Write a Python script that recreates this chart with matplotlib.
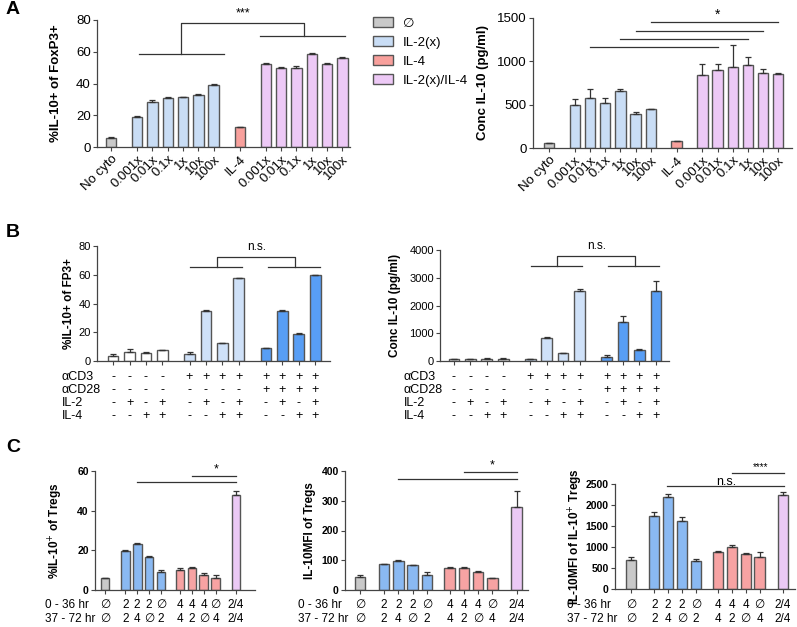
import matplotlib
matplotlib.use('Agg')
import matplotlib.pyplot as plt
import matplotlib.transforms as mtrans
from matplotlib.patches import Patch
import numpy as np

plt.rcParams['font.family'] = ['Liberation Sans', 'DejaVu Sans']

W, H = 797, 627

# ---------------- data
a_labels = ['No cyto', '0.001x', '0.01x', '0.1x', '1x', '10x', '100x', 'IL-4',
            '0.001x', '0.01x', '0.1x', '1x', '10x', '100x']
a_groups = ['none'] + ['il2'] * 6 + ['il4'] + ['both'] * 6
a_pct = [5.5, 19, 28.5, 31, 31.3, 33, 39, 12.5, 52.5, 50, 50, 58.5, 52.5, 56]
a_pct_err = [0.6, 0.3, 1.2, 0.6, 0.4, 0.3, 0.6, 0.3, 0.6, 0.3, 1.0, 0.8, 0.3, 0.5]
a_conc = [55, 500, 580, 520, 655, 395, 450, 80, 845, 905, 940, 960, 860, 855]
a_conc_err = [6, 70, 100, 60, 30, 20, 5, 5, 120, 65, 250, 90, 55, 10]
legend_labels = ['\u2205', 'IL-2(x)', 'IL-4', 'IL-2(x)/IL-4']

b_groups = ['none'] * 4 + ['cd3'] * 4 + ['cd3cd28'] * 4
b_pct = [3.5, 6.5, 5.5, 7.5, 5, 35, 12.5, 57.5, 9, 34.5, 18.5, 59.5]
b_pct_err = [1.5, 2, 0.6, 0.3, 1, 0.3, 0.2, 0.2, 0.3, 1, 0.7, 0.3]
b_conc = [60, 70, 80, 90, 70, 820, 280, 2520, 160, 1390, 410, 2510]
b_conc_err = [20, 15, 15, 15, 15, 50, 20, 80, 40, 230, 40, 380]
b_rows = ['\u03b1CD3', '\u03b1CD28', 'IL-2', 'IL-4']
b_cd3 = ['-'] * 4 + ['+'] * 8
b_cd28 = ['-'] * 8 + ['+'] * 4
b_il2 = ['-', '+', '-', '+'] * 3
b_il4 = ['-', '-', '+', '+'] * 3

c_groups = ['none'] + ['il2'] * 4 + ['il4'] * 4 + ['both']
c_rows = ['0 - 36 hr', '37 - 72 hr']
c_t1 = ['\u2205', '2', '2', '2', '\u2205', '4', '4', '4', '\u2205', '2/4']
c_t2 = ['\u2205', '2', '4', '\u2205', '2', '4', '2', '\u2205', '4', '2/4']
c_pct = [5.8, 19.7, 23.2, 16.8, 9, 10, 11.3, 7.5, 6, 48]
c_pct_err = [0.5, 0.7, 0.3, 0.2, 1.2, 1.3, 0.5, 1.0, 1.5, 2]
c_mfi = [44, 87, 99, 83, 52, 74, 75, 62, 41, 280]
c_mfi_err = [5, 2, 2, 1, 9, 3, 2, 1, 1, 52]
c_mfi10 = [680, 1740, 2200, 1610, 660, 870, 1010, 840, 770, 2240]
c_mfi10_err = [80, 100, 70, 100, 60, 30, 40, 15, 110, 70]

# ---------------- colours / layout
a_col = {'none': '#c9c9c9', 'il2': '#c9ddf5', 'il4': '#f8a09c', 'both': '#edc9f6'}
b_col = {'none': '#ffffff', 'cd3': '#cfe1f8', 'cd3cd28': '#589ef5'}
c_col = {'none': '#c9c9c9', 'il2': '#8ab9f2', 'il4': '#f7a3a3', 'both': '#ebc9f5'}
edge = '#555555'
line_c = '#333333'

a_pos = np.concatenate([[0], 1.7 + np.arange(6), [8.4], 10.1 + np.arange(6)])
b_pos = np.concatenate([np.arange(4), 4.65 + np.arange(4), 9.3 + np.arange(4)])
c_pos = np.concatenate([[0], 1.7 + np.arange(4), [6.3, 7.3, 8.3, 9.3], [11.0]])

fig = plt.figure(figsize=(W / 100, H / 100), dpi=100)


def add_ax(l, t, r, b):
    return fig.add_axes([l / W, 1 - b / H, (r - l) / W, (b - t) / H])


def style(ax, fs, bold=False):
    for s in ['top', 'right']:
        ax.spines[s].set_visible(False)
    for s in ['left', 'bottom']:
        ax.spines[s].set_color('#444444')
        ax.spines[s].set_linewidth(0.9)
    ax.tick_params(axis='both', direction='out', length=3, width=0.8,
                   color='#444444', labelsize=fs, pad=1.5)
    if bold:
        for t in ax.get_yticklabels():
            t.set_fontweight('bold')


def bars(ax, pos, vals, errs, colors, width):
    ax.bar(pos, vals, width, color=colors, edgecolor=edge, linewidth=1, zorder=2)
    ax.errorbar(pos, vals, yerr=[np.zeros(len(errs)), errs], fmt='none',
                ecolor=line_c, elinewidth=0.9, capsize=2.5, capthick=0.9, zorder=3)


def seg(ax, xs, ys):
    ax.plot(xs, ys, color=line_c, lw=0.9, clip_on=False, zorder=4)


def ylab(ax, text, xpix, axl, axr, fs):
    ax.set_ylabel(text, fontsize=fs, fontweight='bold')
    ax.yaxis.set_label_coords((xpix - axl) / (axr - axl), 0.5)


def table(ax, pos, rows, values, ys, xlab, fs):
    tr = mtrans.blended_transform_factory(ax.transData, fig.transFigure)
    for name, vals, y in zip(rows, values, ys):
        fig.text(xlab / W, 1 - y / H, name, ha='left', va='center', fontsize=fs)
        for p, v in zip(pos, vals):
            ax.text(p, 1 - y / H, v, transform=tr, ha='center', va='center', fontsize=fs)


# ---------------- panel A
ax = add_ax(97, 20, 350, 147)
bars(ax, a_pos, a_pct, a_pct_err, [a_col[g] for g in a_groups], 0.68)
ax.set_ylim(0, 80)
ax.set_yticks([0, 20, 40, 60, 80])
ax.set_xlim(-0.92, 15.6)
ax.set_xticks(a_pos)
ax.set_xticklabels(a_labels, rotation=45, ha='right', rotation_mode='anchor', fontsize=8.5)
style(ax, 9.5)
ylab(ax, '%IL-10+ of FoxP3+', 62, 97, 350, 9.5)
seg(ax, [1.83, 7.4], [58.6, 58.6])
seg(ax, [4.57, 4.57, 12.6, 12.6], [58.6, 78, 78, 70])
seg(ax, [9.74, 15.3], [70, 70])
ax.text(8.6, 80.5, '***', ha='center', va='bottom', fontsize=9)

ax = add_ax(533, 18, 792, 148)
bars(ax, a_pos, a_conc, a_conc_err, [a_col[g] for g in a_groups], 0.68)
ax.set_ylim(0, 1500)
ax.set_yticks([0, 500, 1000, 1500])
ax.set_xlim(-1.05, 16.0)
ax.set_xticks(a_pos)
ax.set_xticklabels(a_labels, rotation=45, ha='right', rotation_mode='anchor', fontsize=8.5)
style(ax, 9.5)
ylab(ax, 'Conc IL-10 (pg/ml)', 489, 533, 792, 9.5)
for i, y in zip([6, 5, 4, 2], [1450, 1353, 1258, 1162]):
    seg(ax, [a_pos[i], a_pos[i + 7]], [y, y])
ax.text(a_pos[9], 1455, '*', ha='center', va='bottom', fontsize=10)

handles = [Patch(facecolor=a_col[g], edgecolor=edge, linewidth=1)
           for g in ['none', 'il2', 'il4', 'both']]
fig.legend(handles, legend_labels, loc='upper left', bbox_to_anchor=(373 / W, 1 - 17 / H),
           frameon=False, fontsize=9.5, handlelength=1.5, handleheight=0.8,
           labelspacing=0.48, handletextpad=0.75, borderpad=0, borderaxespad=0)

# ---------------- panel B
b_table = [b_cd3, b_cd28, b_il2, b_il4]
row_y = [377, 390, 403, 416]

ax = add_ax(97, 246, 330, 361)
bars(ax, b_pos, b_pct, b_pct_err, [b_col[g] for g in b_groups], 0.65)
ax.set_ylim(0, 80)
ax.set_yticks([0, 20, 40, 60, 80])
ax.set_xlim(-0.98, 13.2)
ax.set_xticks(b_pos)
ax.set_xticklabels([])
style(ax, 8)
ylab(ax, '%IL-10+ of FP3+', 75, 97, 330, 8.5)
seg(ax, [4.7, 7.87], [65.4, 65.4])
seg(ax, [9.45, 12.6], [65.4, 65.4])
seg(ax, [6.34, 6.34, 11.1, 11.1], [65.4, 72.3, 72.3, 65.4])
ax.text(8.75, 75, 'n.s.', ha='center', va='bottom', fontsize=8.5)
table(ax, b_pos, b_rows, b_table, row_y, 62, 9)

ax = add_ax(440, 250, 669, 361)
bars(ax, b_pos, b_conc, b_conc_err, [b_col[g] for g in b_groups], 0.65)
ax.set_ylim(0, 4000)
ax.set_yticks([0, 1000, 2000, 3000, 4000])
ax.set_xlim(-0.85, 13.1)
ax.set_xticks(b_pos)
ax.set_xticklabels([])
style(ax, 8)
ylab(ax, 'Conc IL-10 (pg/ml)', 401, 440, 669, 8.5)
seg(ax, [4.7, 7.8], [3423, 3423])
seg(ax, [9.4, 12.5], [3423, 3423])
seg(ax, [6.28, 6.28, 11.04, 11.04], [3423, 3784, 3784, 3423])
ax.text(8.7, 3930, 'n.s.', ha='center', va='bottom', fontsize=8.5)
table(ax, b_pos, b_rows, b_table, row_y, 404, 9)

# ---------------- panel C
c_row_y = [605, 619]
c_cols = [c_col[g] for g in c_groups]

ax = add_ax(95, 471, 255, 590)
bars(ax, c_pos, c_pct, c_pct_err, c_cols, 0.74)
ax.set_ylim(0, 60)
ax.set_yticks([0, 20, 40, 60])
ax.set_xlim(-0.84, 12.6)
ax.set_xticks(c_pos)
ax.set_xticklabels([])
style(ax, 7.5, bold=True)
ylab(ax, '%IL-10$^{+}$ of Tregs', 65, 95, 255, 8.5)
seg(ax, [7.3, 11.0], [57.5, 57.5])
seg(ax, [2.7, 11.0], [54.5, 54.5])
ax.text(9.35, 57.8, '*', ha='center', va='bottom', fontsize=9)
table(ax, c_pos, c_rows, [c_t1, c_t2], c_row_y, 45, 8.5)

ax = add_ax(345, 471, 528, 590)
bars(ax, c_pos, c_mfi, c_mfi_err, c_cols, 0.74)
ax.set_ylim(0, 400)
ax.set_yticks([0, 100, 200, 300, 400])
ax.set_xlim(-1.05, 11.8)
ax.set_xticks(c_pos)
ax.set_xticklabels([])
style(ax, 7.5, bold=True)
ylab(ax, 'IL-10MFI of Tregs', 316, 345, 528, 8.5)
seg(ax, [7.3, 11.0], [397, 397])
seg(ax, [2.7, 11.0], [373, 373])
ax.text(9.3, 400, '*', ha='center', va='bottom', fontsize=9)
table(ax, c_pos, c_rows, [c_t1, c_t2], c_row_y, 298, 8.5)

ax = add_ax(615, 484, 795, 589)
bars(ax, c_pos, c_mfi10, c_mfi10_err, c_cols, 0.74)
ax.set_ylim(0, 2500)
ax.set_yticks([0, 500, 1000, 1500, 2000, 2500])
ax.set_xlim(-1.14, 11.86)
ax.set_xticks(c_pos)
ax.set_xticklabels([])
style(ax, 7.5, bold=True)
ylab(ax, 'IL-10MFI of IL-10$^{+}$ Tregs', 585, 615, 795, 8.5)
seg(ax, [7.3, 11.1], [2762, 2762])
seg(ax, [2.6, 11.1], [2452, 2452])
ax.text(6.86, 2400, 'n.s.', ha='center', va='bottom', fontsize=9)
ax.text(9.35, 2790, '****', ha='center', va='bottom', fontsize=7)
table(ax, c_pos, c_rows, [c_t1, c_t2], c_row_y, 567, 8.5)

# ---------------- panel letters
for letter, x, y in [('A', 6, 10), ('B', 6, 232), ('C', 6, 448)]:
    fig.text(x / W, 1 - y / H, letter, fontsize=14, fontweight='bold', ha='left', va='center')

fig.savefig('out.png', dpi=100)
